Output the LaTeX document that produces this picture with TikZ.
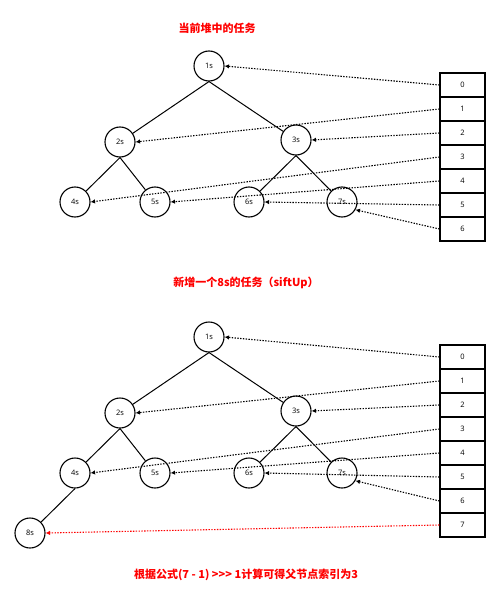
\documentclass[tikz,border=0pt]{standalone}
\usepackage{fontspec}
\setmainfont{Open Sans}
\newfontfamily\cjk{Noto Sans CJK SC}
\usetikzlibrary{arrows.meta}
\definecolor{titlered}{RGB}{255,0,0}

\begin{document}
\begin{tikzpicture}[x=1pt,y=-1pt,task/.style={draw,circle,line width=1.1pt,minimum size=30pt,inner sep=0pt,font=\fontsize{7.5}{8}\selectfont},cell/.style={draw,line width=1.1pt,minimum width=45pt,minimum height=24pt,inner sep=0pt,font=\fontsize{7.5}{8}\selectfont},edge/.style={line width=1pt},ptr/.style={line width=1.1pt,dash pattern=on 1.4pt off 1.4pt,-{Latex[length=4.5pt,width=4.5pt]}},ttl/.style={text=titlered,font=\cjk\bfseries\fontsize{11}{13}\selectfont}]
\useasboundingbox (0,0) rectangle (500,607);
% heap before insert
\node[ttl](ttop) at (217,28){当前堆中的任务};
\node[task](u1) at (209,66){1s};
\node[task](u2) at (120,142){2s};
\node[task](u3) at (296,140){3s};
\node[task](u4) at (75,202){4s};
\node[task](u5) at (155,202){5s};
\node[task](u6) at (249,202){6s};
\node[task](u7) at (342,202){7s};
\draw[edge](u1.south)--(u2);\draw[edge](u1.south)--(u3);
\draw[edge](u2.south)--(u4);\draw[edge](u2.south)--(u5);
\draw[edge](u3.south)--(u6);\draw[edge](u3.south)--(u7);
\node[cell](a0) at (462.5,85){0};
\node[cell](a1) at (462.5,109){1};
\node[cell](a2) at (462.5,133){2};
\node[cell](a3) at (462.5,157){3};
\node[cell](a4) at (462.5,181){4};
\node[cell](a5) at (462.5,205){5};
\node[cell](a6) at (462.5,229){6};
\draw[ptr](a0.west)--(u1.east);
\draw[ptr](a1.west)--(u2.east);
\draw[ptr](a2.west)--(u3.east);
\draw[ptr](a3.west)--(u4.east);
\draw[ptr](a4.west)--(u5.east);
\draw[ptr](a5.west)--(u6.east);
\draw[ptr](a6.west)--(u7.-30);
% heap after siftUp insert
\node[ttl](tmid) at (246,283){新增一个8s的任务（siftUp）};
\node[task](v1) at (209,337){1s};
\node[task](v2) at (120,413){2s};
\node[task](v3) at (296,411){3s};
\node[task](v4) at (75,473){4s};
\node[task](v5) at (155,473){5s};
\node[task](v6) at (249,473){6s};
\node[task](v7) at (342,473){7s};
\node[task](v8) at (30,533){8s};
\draw[edge](v1.south)--(v2);\draw[edge](v1.south)--(v3);
\draw[edge](v2.south)--(v4);\draw[edge](v2.south)--(v5);
\draw[edge](v3.south)--(v6);\draw[edge](v3.south)--(v7);
\draw[edge](v4.south)--(v8);
\node[cell](b0) at (462.5,357){0};
\node[cell](b1) at (462.5,381){1};
\node[cell](b2) at (462.5,405){2};
\node[cell](b3) at (462.5,429){3};
\node[cell](b4) at (462.5,453){4};
\node[cell](b5) at (462.5,477){5};
\node[cell](b6) at (462.5,501){6};
\node[cell](b7) at (462.5,525){7};
\draw[ptr](b0.west)--(v1.east);
\draw[ptr](b1.west)--(v2.east);
\draw[ptr](b2.west)--(v3.east);
\draw[ptr](b3.west)--(v4.east);
\draw[ptr](b4.west)--(v5.east);
\draw[ptr](b5.west)--(v6.east);
\draw[ptr](b6.west)--(v7.-30);
\draw[ptr,titlered](b7.west)--(v8.east);
\node[ttl](tbot) at (246,575){根据公式(7 - 1) >>> 1计算可得父节点索引为3};
\end{tikzpicture}
\end{document}
